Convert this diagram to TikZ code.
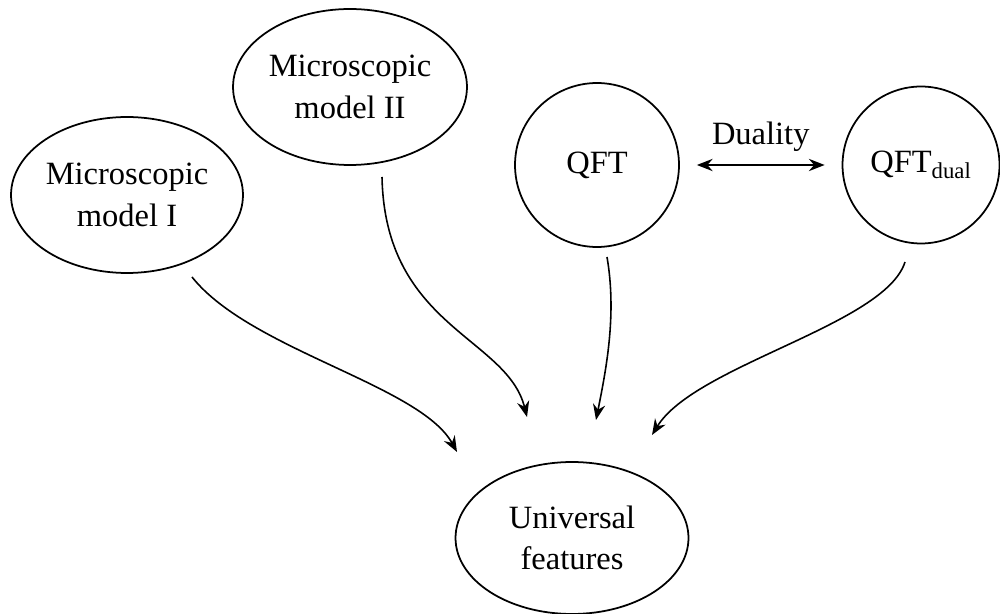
\documentclass[tikz,border=0pt]{standalone}
\usepackage{fontspec}
\setmainfont{Liberation Serif}
\usetikzlibrary{arrows.meta,shapes.geometric,calc}

\begin{document}
\begin{tikzpicture}[
    x=0.02cm, y=-0.02cm,
    font=\fontsize{18.5}{23.5}\selectfont,
    modelstep/.style={
        draw=black,
        ellipse,
        line width=1pt,
        align=center,
        inner sep=0pt
    },
    theorystep/.style={
        draw=black,
        circle,
        line width=1pt,
        align=center,
        inner sep=0pt
    },
    arrow/.style={-{Stealth[length=9pt,width=7pt,inset=3pt]}, line width=0.9pt, draw=black}
]
\useasboundingbox (0,0) rectangle (1000,614);
\node[modelstep, minimum width=4.64cm, minimum height=3.12cm] (modelI) at (127,195) {Microscopic\\model I};
\node[modelstep, minimum width=4.68cm, minimum height=3.12cm] (modelII) at (350,87) {Microscopic\\model II};
\node[theorystep, minimum size=3.28cm] (qft) at (597,165) {QFT};
\node[theorystep, minimum size=3.14cm] (dual) at (921,165) {QFT\textsubscript{dual}};
\node[modelstep, minimum width=4.66cm, minimum height=3.04cm] (universal) at (572,538) {Universal\\features};
\draw[arrow, {Stealth[length=9pt,width=7pt,inset=3pt]}-{Stealth[length=9pt,width=7pt,inset=3pt]}, shorten <=0.34cm, shorten >=0.34cm]
    (qft) -- node[above=4pt] (duality) {Duality} (dual);
\draw[arrow] ($(modelI)+(65,82)$) .. controls +(58,73) and +(-37,-67) .. ($(universal)+(-115,-86)$);
\draw[arrow] ($(modelII)+(32,90)$) .. controls +(3,150) and +(-20,-80) .. ($(universal)+(-45,-121)$);
\draw[arrow] ($(qft)+(10,92)$) .. controls +(10,58) and +(10,-50) .. ($(universal)+(24,-118)$);
\draw[arrow] ($(dual)+(-16,97)$) .. controls +(-20,63) and +(43,-70) .. ($(universal)+(80,-103)$);
\end{tikzpicture}
\end{document}
